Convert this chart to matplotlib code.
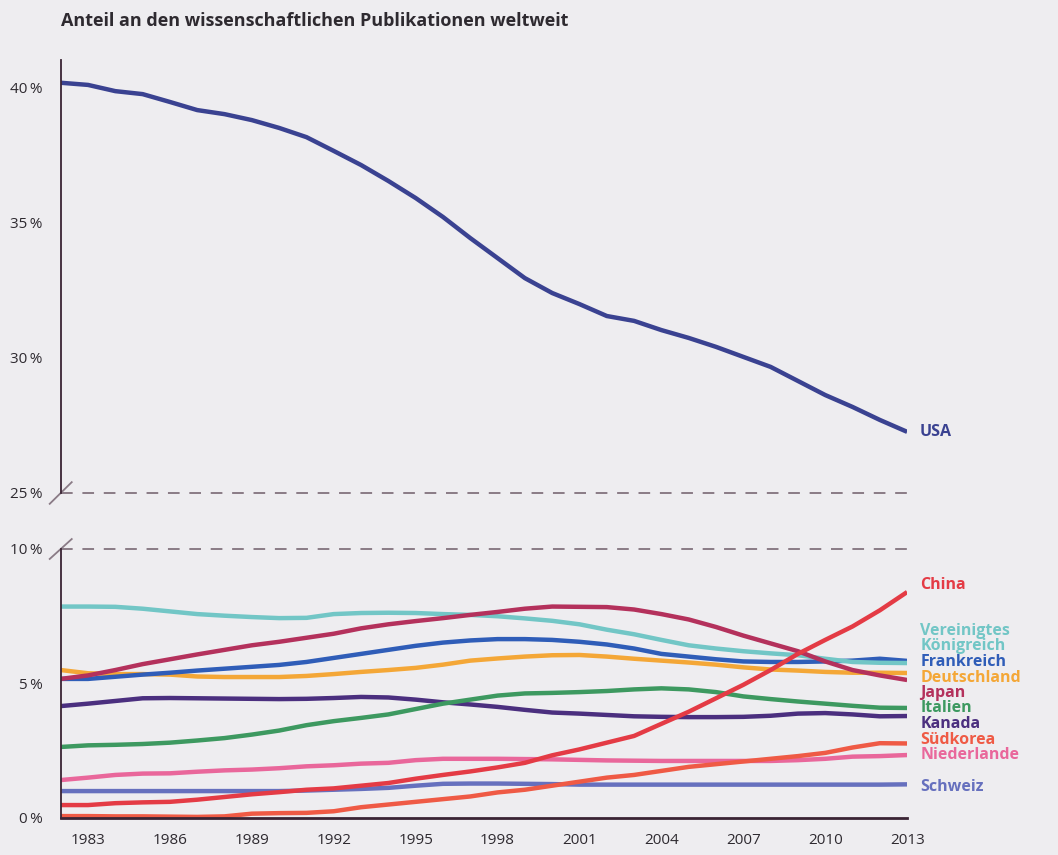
import numpy as np
import matplotlib
matplotlib.use("Agg")
import matplotlib.pyplot as plt

plt.rcParams['font.family'] = ['Open Sans', 'DejaVu Sans']

# --- data (share of world scientific publications, %) ---
years = list(range(1982, 2014))

usa = [40.16, 40.08, 39.85, 39.74, 39.45, 39.15, 39.0, 38.78, 38.49, 38.15,
       37.64, 37.12, 36.53, 35.9, 35.2, 34.42, 33.68, 32.94, 32.39, 31.98,
       31.54, 31.36, 31.02, 30.73, 30.4, 30.03, 29.66, 29.14, 28.62, 28.18,
       27.7, 27.26]

china = [0.48, 0.48, 0.55, 0.58, 0.6, 0.68, 0.78, 0.88, 0.96, 1.05,
         1.1, 1.2, 1.3, 1.46, 1.6, 1.73, 1.88, 2.05, 2.33, 2.55,
         2.8, 3.05, 3.5, 3.95, 4.45, 4.95, 5.5, 6.1, 6.62, 7.12,
         7.72, 8.4]

uk = [7.86, 7.86, 7.85, 7.78, 7.68, 7.58, 7.52, 7.47, 7.43, 7.44,
      7.58, 7.62, 7.63, 7.62, 7.58, 7.55, 7.5, 7.42, 7.33, 7.2,
      7.0, 6.83, 6.62, 6.42, 6.3, 6.2, 6.12, 6.05, 5.92, 5.8,
      5.77, 5.76]

france = [5.17, 5.17, 5.25, 5.33, 5.4, 5.48, 5.55, 5.62, 5.69, 5.8,
          5.95, 6.1, 6.25, 6.4, 6.52, 6.6, 6.65, 6.65, 6.62, 6.55,
          6.45, 6.3, 6.1, 6.0, 5.9, 5.82, 5.8, 5.8, 5.82, 5.85,
          5.92, 5.84]

germany = [5.5, 5.38, 5.35, 5.35, 5.33, 5.26, 5.24, 5.24, 5.24, 5.28,
           5.35, 5.43, 5.5, 5.58, 5.7, 5.85, 5.93, 6.0, 6.05, 6.06,
           6.0, 5.92, 5.85, 5.78, 5.7, 5.6, 5.52, 5.48, 5.43, 5.4,
           5.4, 5.39]

japan = [5.17, 5.3, 5.5, 5.72, 5.9, 6.08, 6.25, 6.42, 6.55, 6.7,
         6.85, 7.05, 7.2, 7.32, 7.43, 7.55, 7.66, 7.78, 7.86, 7.85,
         7.84, 7.75, 7.58, 7.38, 7.1, 6.78, 6.49, 6.2, 5.82, 5.5,
         5.3, 5.13]

italy = [2.64, 2.7, 2.72, 2.75, 2.8, 2.88, 2.97, 3.1, 3.25, 3.45,
         3.6, 3.72, 3.85, 4.05, 4.25, 4.4, 4.55, 4.63, 4.65, 4.68,
         4.72, 4.78, 4.82, 4.78, 4.68, 4.52, 4.42, 4.33, 4.25, 4.17,
         4.1, 4.09]

canada = [4.16, 4.25, 4.35, 4.45, 4.46, 4.45, 4.44, 4.43, 4.42, 4.43,
          4.46, 4.5, 4.48, 4.4, 4.3, 4.22, 4.13, 4.02, 3.92, 3.88,
          3.83, 3.78, 3.76, 3.75, 3.75, 3.76, 3.8, 3.88, 3.9, 3.85,
          3.78, 3.79]

korea = [0.07, 0.07, 0.06, 0.06, 0.05, 0.04, 0.06, 0.16, 0.18, 0.19,
         0.25, 0.4, 0.5, 0.6, 0.7, 0.8, 0.95, 1.05, 1.2, 1.35,
         1.5, 1.6, 1.75, 1.9, 2.0, 2.1, 2.2, 2.3, 2.42, 2.62,
         2.78, 2.77]

netherlands = [1.41, 1.5, 1.6, 1.65, 1.66, 1.72, 1.77, 1.8, 1.85, 1.92,
               1.96, 2.02, 2.05, 2.15, 2.2, 2.2, 2.2, 2.19, 2.18, 2.16,
               2.14, 2.13, 2.12, 2.12, 2.12, 2.12, 2.12, 2.15, 2.2, 2.28,
               2.3, 2.34]

switzerland = [1.0, 1.0, 1.0, 1.0, 1.0, 1.0, 1.0, 1.0, 1.0, 1.02,
               1.05, 1.08, 1.12, 1.2, 1.27, 1.28, 1.28, 1.27, 1.26, 1.24,
               1.24, 1.24, 1.24, 1.24, 1.24, 1.24, 1.24, 1.24, 1.24, 1.24,
               1.24, 1.25]

x_ticks = list(range(1983, 2014, 3))

# name, series, colour, label y (bottom panel, %)
lower_series = [
    ("Schweiz", switzerland, "#6670be", 1.15),
    ("Niederlande", netherlands, "#e9679b", 2.34),
    ("Südkorea", korea, "#ef5a45", 2.9),
    ("Kanada", canada, "#4b2f7f", 3.49),
    ("Italien", italy, "#3d9960", 4.09),
    ("Deutschland", germany, "#f4a737", 5.2),
    ("Frankreich", france, "#2f5db8", 5.8),
    ("Vereinigtes\nKönigreich", uk, "#72c6c6", 6.67),
    ("Japan", japan, "#b4315c", 4.65),
    ("China", china, "#e43b45", 8.66),
]

BG = "#eeedf0"
SPINE = "#3a2434"
DASH = "#8a7b86"
TXT = "#2e2a30"

fig = plt.figure(figsize=(10.58, 8.55), dpi=100, facecolor=BG)
ax_top = fig.add_axes([0.0574, 0.4234, 0.800, 0.5064], facecolor=BG)
ax_bot = fig.add_axes([0.0574, 0.0433, 0.800, 0.3146], facecolor=BG)

# top panel: USA
ax_top.plot(years, usa, color="#3a4291", lw=3.2, solid_capstyle="butt")
ax_top.annotate("USA", (years[-1], usa[-1]), xytext=(9, 0),
                textcoords="offset points", ha="left", va="center",
                color="#3a4291", fontsize=11.5, fontweight="bold",
                annotation_clip=False)
ax_top.set_ylim(25, 41)
ax_top.set_yticks([25, 30, 35, 40])
ax_top.set_yticklabels(["25\u2009%", "30\u2009%", "35\u2009%", "40\u2009%"])

# bottom panel
for name, vals, col, ly in lower_series:
    ax_bot.plot(years, vals, color=col, lw=3.2, solid_capstyle="butt")
    ax_bot.text(2013.48, ly, name, color=col, fontsize=11.5, fontweight="bold",
                ha="left", va="center", linespacing=0.88, clip_on=False)
ax_bot.set_ylim(0, 10)
ax_bot.set_yticks([0, 5, 10])
ax_bot.set_yticklabels(["0\u2009%", "5\u2009%", "10\u2009%"])
ax_bot.set_xticks(x_ticks)
ax_bot.set_xticklabels([str(y) for y in x_ticks])

for ax in (ax_top, ax_bot):
    ax.set_xlim(1982, 2013)
    for s in ("top", "right"):
        ax.spines[s].set_visible(False)
    ax.spines["left"].set_color(SPINE)
    ax.spines["left"].set_linewidth(1.3)
    ax.tick_params(axis="both", length=0, labelsize=11, labelcolor=TXT)
    ax.tick_params(axis="y", pad=13)

ax_top.spines["bottom"].set_visible(False)
ax_top.set_xticks([])
ax_bot.spines["bottom"].set_color(SPINE)
ax_bot.spines["bottom"].set_linewidth(2)
ax_bot.tick_params(axis="x", pad=11)

# dashed break lines
ax_top.axhline(25, color=DASH, lw=1.4, ls=(0, (6, 5)), clip_on=False)
ax_bot.axhline(10, color=DASH, lw=1.4, ls=(0, (6, 5)), clip_on=False)

# break slashes on the y axis
d = 0.013
ax_top.plot([-d, d], [-0.025, 0.025], transform=ax_top.transAxes,
            color=DASH, lw=1.3, clip_on=False)
ax_bot.plot([-d, d], [1 - 0.037, 1 + 0.037], transform=ax_bot.transAxes,
            color=DASH, lw=1.3, clip_on=False)

fig.text(0.0574, 0.976, "Anteil an den wissenschaftlichen Publikationen weltweit",
         fontsize=13, fontweight="bold", color=TXT, ha="left", va="center")

fig.savefig("out.png", dpi=100, facecolor=BG)
